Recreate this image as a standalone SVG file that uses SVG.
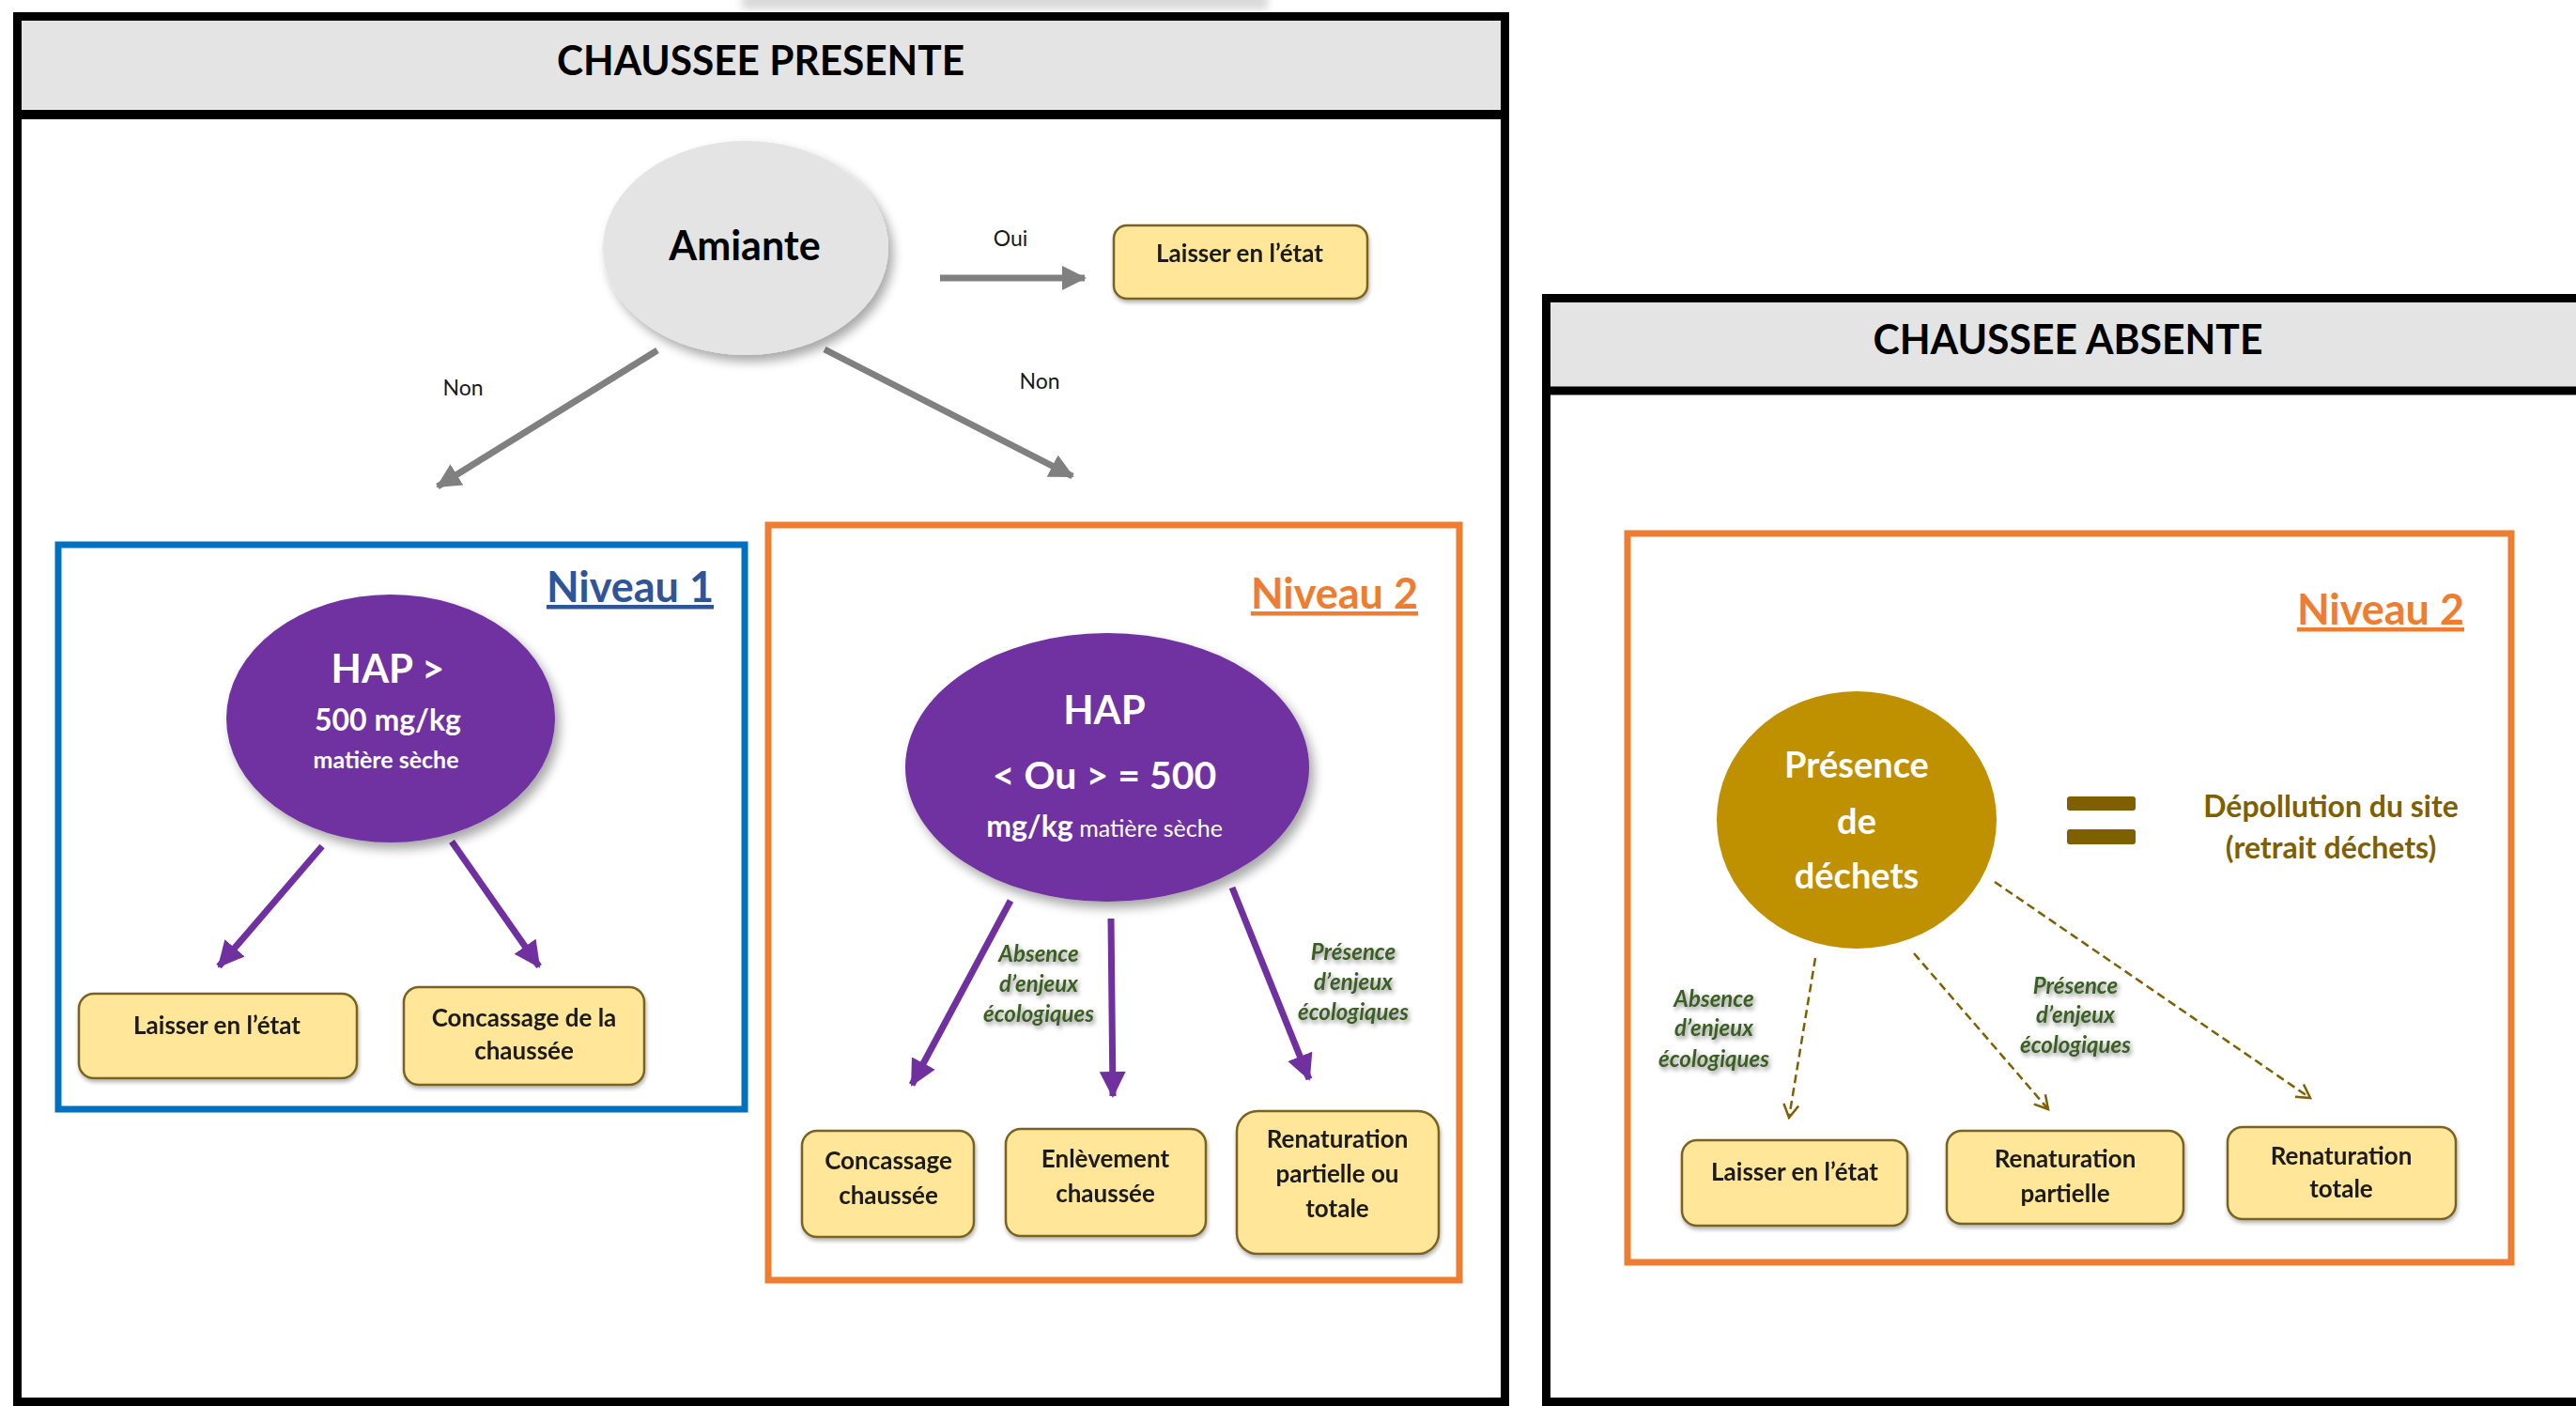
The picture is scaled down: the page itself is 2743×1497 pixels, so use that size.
<svg xmlns="http://www.w3.org/2000/svg" width="2743" height="1497" viewBox="0 0 2743 1497">
  <style>
    text { font-family: Lato, "Liberation Sans", sans-serif; }
    .title { font-size: 44px; font-weight: 700; fill: #000; text-anchor: middle; }
    .box { fill: #ffe699; stroke: #7a6420; stroke-width: 2.5; }
    .boxtxt { font-size: 26px; font-weight: 700; fill: #1a1a1a; text-anchor: middle; }
    .small { font-size: 23px; fill: #1a1a1a; text-anchor: middle; }
    .eco { font-size: 24px; font-weight: 700; font-style: italic; fill: #3b5e23; text-anchor: middle; }
    .white { fill: #fff; text-anchor: middle; font-weight: 700; }
    .grayArrow { stroke: #808080; stroke-width: 7; fill: none; }
    .purpleArrow { stroke: #7030a0; stroke-width: 7; fill: none; }
    .dashArrow { stroke: #7f6000; stroke-width: 2.5; stroke-dasharray: 9 5; fill: none; }
    .level { font-size: 45px; font-weight: 700; text-anchor: end; text-decoration: underline; }
  </style>
  <defs>
    <filter id="shadow" x="-20%" y="-20%" width="150%" height="150%">
      <feGaussianBlur in="SourceAlpha" stdDeviation="6"/>
      <feOffset dx="5" dy="7" result="b"/>
      <feComponentTransfer><feFuncA type="linear" slope="0.35"/></feComponentTransfer>
      <feMerge><feMergeNode/><feMergeNode in="SourceGraphic"/></feMerge>
    </filter>
    <filter id="boxShadow" x="-10%" y="-10%" width="125%" height="130%">
      <feGaussianBlur in="SourceAlpha" stdDeviation="2"/>
      <feOffset dx="1" dy="3"/>
      <feComponentTransfer><feFuncA type="linear" slope="0.3"/></feComponentTransfer>
      <feMerge><feMergeNode/><feMergeNode in="SourceGraphic"/></feMerge>
    </filter>
    <filter id="textGlow" x="-20%" y="-30%" width="140%" height="170%">
      <feGaussianBlur in="SourceAlpha" stdDeviation="2.5"/>
      <feOffset dx="2" dy="3"/>
      <feComponentTransfer><feFuncA type="linear" slope="0.45"/></feComponentTransfer>
      <feMerge><feMergeNode/><feMergeNode in="SourceGraphic"/></feMerge>
    </filter>
    <filter id="haze"><feGaussianBlur stdDeviation="4"/></filter>
    <marker id="headGray" markerUnits="userSpaceOnUse" markerWidth="30" markerHeight="30" refX="24" refY="13" orient="auto">
      <path d="M0,0 L26,13 L0,26 Z" fill="#808080"/>
    </marker>
    <marker id="headPurple" markerUnits="userSpaceOnUse" markerWidth="32" markerHeight="32" refX="26" refY="14" orient="auto">
      <path d="M0,0 L28,14 L0,28 Z" fill="#7030a0"/>
    </marker>
    <marker id="headDash" markerUnits="userSpaceOnUse" markerWidth="22" markerHeight="22" refX="16" refY="9" orient="auto">
      <path d="M2,1 L16,9 L2,17" fill="none" stroke="#7f6000" stroke-width="2.5"/>
    </marker>
  </defs>

  <rect width="2743" height="1497" fill="#fff"/>
  <!-- soft grey strip along the upper edge -->
  <rect x="790" y="-6" width="560" height="16" fill="#d9d9d9" filter="url(#haze)"/>

  <!-- panel: chaussée présente -->
  <g id="panel-presente">
    <rect x="18" y="17" width="1584" height="105" fill="#e4e4e4"/>
    <rect x="18.5" y="17.5" width="1584" height="1475" fill="none" stroke="#000" stroke-width="9"/>
    <line x1="14" y1="122" x2="1607" y2="122" stroke="#000" stroke-width="10"/>
    <text class="title" x="810" y="80" textLength="434" lengthAdjust="spacingAndGlyphs">CHAUSSEE PRESENTE</text>
  </g>

  <!-- panel: chaussée absente -->
  <g id="panel-absente">
    <rect x="1646" y="317" width="1110" height="98" fill="#e4e4e4"/>
    <rect x="1646.5" y="317.5" width="1120" height="1175" fill="none" stroke="#000" stroke-width="9"/>
    <line x1="1642" y1="416" x2="2743" y2="416" stroke="#000" stroke-width="9"/>
    <text class="title" x="2202" y="377" textLength="415" lengthAdjust="spacingAndGlyphs">CHAUSSEE ABSENTE</text>
  </g>

  <!-- level frames -->
  <g id="niveau1-frame">
    <rect x="62" y="580" width="731" height="601" fill="none" stroke="#0070c0" stroke-width="7"/>
    <text class="level" x="760" y="641" fill="#2f5597">Niveau 1</text>
  </g>
  <g id="niveau2-frame">
    <rect x="818" y="559" width="736" height="804" fill="none" stroke="#ed7d31" stroke-width="7"/>
    <text class="level" x="1510" y="648" fill="#ed7d31">Niveau 2</text>
  </g>
  <g id="niveau2b-frame">
    <rect x="1733" y="568" width="941" height="776" fill="none" stroke="#ed7d31" stroke-width="7"/>
    <text class="level" x="2624" y="665" fill="#ed7d31">Niveau 2</text>
  </g>

  <!-- connectors -->
  <g id="connectors">
    <line class="grayArrow" x1="1001" y1="296" x2="1155" y2="296" marker-end="url(#headGray)"/>
    <line class="grayArrow" x1="700" y1="373" x2="466" y2="518" marker-end="url(#headGray)"/>
    <line class="grayArrow" x1="878" y1="372" x2="1142" y2="507" marker-end="url(#headGray)"/>
    <text class="small" x="1076" y="262">Oui</text>
    <text class="small" x="493" y="421">Non</text>
    <text class="small" x="1107" y="414">Non</text>

    <line class="purpleArrow" x1="343" y1="901" x2="233" y2="1029" marker-end="url(#headPurple)"/>
    <line class="purpleArrow" x1="481" y1="896" x2="574" y2="1029" marker-end="url(#headPurple)"/>

    <line class="purpleArrow" x1="1076" y1="959" x2="971" y2="1155" marker-end="url(#headPurple)"/>
    <line class="purpleArrow" x1="1183" y1="978" x2="1185" y2="1167" marker-end="url(#headPurple)"/>
    <line class="purpleArrow" x1="1312" y1="945" x2="1394" y2="1149" marker-end="url(#headPurple)"/>
    <g filter="url(#textGlow)">
      <text class="eco" x="1106" y="1024">Absence</text>
      <text class="eco" x="1106" y="1056">d’enjeux</text>
      <text class="eco" x="1106" y="1088">écologiques</text>
      <text class="eco" x="1441" y="1022">Présence</text>
      <text class="eco" x="1441" y="1054">d’enjeux</text>
      <text class="eco" x="1441" y="1086">écologiques</text>
    </g>

    <line class="dashArrow" x1="1933" y1="1020" x2="1905" y2="1190" marker-end="url(#headDash)"/>
    <line class="dashArrow" x1="2038" y1="1015" x2="2181" y2="1181" marker-end="url(#headDash)"/>
    <line class="dashArrow" x1="2124" y1="939" x2="2460" y2="1169" marker-end="url(#headDash)"/>
    <g filter="url(#textGlow)">
      <text class="eco" x="1825" y="1072">Absence</text>
      <text class="eco" x="1825" y="1103">d’enjeux</text>
      <text class="eco" x="1825" y="1136">écologiques</text>
      <text class="eco" x="2210" y="1058">Présence</text>
      <text class="eco" x="2210" y="1089">d’enjeux</text>
      <text class="eco" x="2210" y="1121">écologiques</text>
    </g>
  </g>

  <!-- decision nodes -->
  <g id="amiante">
    <ellipse cx="794" cy="264" rx="152" ry="114" fill="#e4e4e4" filter="url(#shadow)"/>
    <text x="793" y="277" font-size="43" font-weight="700" text-anchor="middle" fill="#000">Amiante</text>
  </g>
  <g id="hap-niveau1">
    <ellipse cx="416" cy="765" rx="175" ry="132" fill="#7030a0" filter="url(#shadow)"/>
    <text class="white" x="413" y="727" font-size="42">HAP &gt;</text>
    <text class="white" x="413" y="778" font-size="32">500 mg/kg</text>
    <text class="white" x="411" y="818" font-size="25" font-weight="400">matière sèche</text>
  </g>
  <g id="hap-niveau2">
    <ellipse cx="1179" cy="817" rx="215" ry="143" fill="#7030a0" filter="url(#shadow)"/>
    <text class="white" x="1176" y="771" font-size="42">HAP</text>
    <text class="white" x="1176" y="840" font-size="41">&lt; Ou &gt; = 500</text>
    <text class="white" x="1176" y="891"><tspan font-size="32">mg/kg</tspan><tspan font-size="25" font-weight="400"> matière sèche</tspan></text>
  </g>
  <g id="presence-dechets">
    <ellipse cx="1977" cy="873" rx="149" ry="137" fill="#bf9000"/>
    <text class="white" x="1977" y="828" font-size="38">Présence</text>
    <text class="white" x="1977" y="888" font-size="38">de</text>
    <text class="white" x="1977" y="946" font-size="38">déchets</text>
  </g>
  <g id="equals">
    <rect x="2201" y="848" width="73" height="15" rx="3" fill="#7f6000"/>
    <rect x="2201" y="883" width="73" height="16" rx="3" fill="#7f6000"/>
  </g>
  <g id="depollution">
    <text x="2482" y="870" font-size="32" font-weight="700" text-anchor="middle" fill="#7f6000">Dépollution du site</text>
    <text x="2482" y="914" font-size="32" font-weight="700" text-anchor="middle" fill="#7f6000">(retrait déchets)</text>
  </g>

  <!-- outcome boxes -->
  <g id="laisser-top" filter="url(#boxShadow)">
    <rect class="box" x="1186" y="240" width="270" height="78" rx="14"/>
    <text class="boxtxt" x="1320" y="279">Laisser en l’état</text>
  </g>
  <g id="laisser-n1" filter="url(#boxShadow)">
    <rect class="box" x="84" y="1058" width="296" height="90" rx="16"/>
    <text class="boxtxt" x="231" y="1101">Laisser en l’état</text>
  </g>
  <g id="concassage-n1" filter="url(#boxShadow)">
    <rect class="box" x="430" y="1051" width="256" height="104" rx="16"/>
    <text class="boxtxt" x="558" y="1093">Concassage de la</text>
    <text class="boxtxt" x="558" y="1128">chaussée</text>
  </g>
  <g id="concassage-n2" filter="url(#boxShadow)">
    <rect class="box" x="854" y="1204" width="183" height="113" rx="16"/>
    <text class="boxtxt" x="946" y="1245">Concassage</text>
    <text class="boxtxt" x="946" y="1282">chaussée</text>
  </g>
  <g id="enlevement-n2" filter="url(#boxShadow)">
    <rect class="box" x="1071" y="1202" width="213" height="114" rx="16"/>
    <text class="boxtxt" x="1177" y="1243">Enlèvement</text>
    <text class="boxtxt" x="1177" y="1280">chaussée</text>
  </g>
  <g id="renaturation-n2" filter="url(#boxShadow)">
    <rect class="box" x="1317" y="1183" width="215" height="152" rx="22"/>
    <text class="boxtxt" x="1424" y="1222">Renaturation</text>
    <text class="boxtxt" x="1424" y="1259">partielle ou</text>
    <text class="boxtxt" x="1424" y="1296">totale</text>
  </g>
  <g id="laisser-abs" filter="url(#boxShadow)">
    <rect class="box" x="1791" y="1214" width="240" height="91" rx="16"/>
    <text class="boxtxt" x="1911" y="1257">Laisser en l’état</text>
  </g>
  <g id="renaturation-partielle" filter="url(#boxShadow)">
    <rect class="box" x="2073" y="1204" width="252" height="99" rx="16"/>
    <text class="boxtxt" x="2199" y="1243">Renaturation</text>
    <text class="boxtxt" x="2199" y="1280">partielle</text>
  </g>
  <g id="renaturation-totale" filter="url(#boxShadow)">
    <rect class="box" x="2372" y="1200" width="243" height="98" rx="16"/>
    <text class="boxtxt" x="2493" y="1240">Renaturation</text>
    <text class="boxtxt" x="2493" y="1275">totale</text>
  </g>
</svg>
